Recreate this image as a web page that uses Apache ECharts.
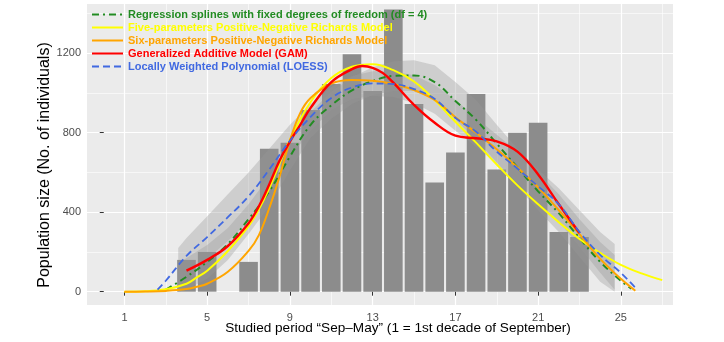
<!DOCTYPE html>
<html>
<head>
<meta charset="utf-8">
<script src="https://cdn.jsdelivr.net/npm/echarts@6/dist/echarts.min.js"></script>
<style>
  html, body { margin: 0; padding: 0; background: #ffffff; }
  #chart { width: 724px; height: 342px; }
</style>
</head>
<body>
<div id="chart"></div>
<script>
// Observed counts per decade
const barX = [4, 5, 7, 8, 9, 10, 11, 12, 13, 14, 15, 16, 17, 18, 19, 20, 21, 22, 23];
const barY = [160, 200, 150, 720, 750, 915, 1045, 1195, 1010, 1420, 945, 550, 700, 995, 615, 800, 850, 300, 275];

// Regression splines (df = 4)
const splineX = [3, 4, 5, 6, 7, 8, 9, 10, 11, 12, 13, 14, 15, 16, 17, 18, 19, 20, 21, 22, 23, 24, 25, 25.5];
const splineY = [10, 75, 150, 240, 365, 505, 680, 840, 938, 1013, 1060, 1086, 1088, 1055, 960, 865, 745, 625, 505, 395, 270, 150, 55, 15];

// Five-parameter Richards model
const rich5X = [1, 2, 3, 4, 4.5, 5, 6, 7, 7.5, 8, 8.5, 9, 10, 11, 12, 13, 14, 15, 16, 17, 18, 19, 20, 21, 22, 23, 24, 25, 26, 27];
const rich5Y = [0, 2, 12, 40, 72, 105, 205, 330, 415, 520, 645, 765, 955, 1075, 1132, 1145, 1115, 1058, 965, 855, 750, 640, 535, 440, 350, 265, 195, 135, 92, 58];

// Six-parameter Richards model
const rich6X = [1, 2, 3, 4, 4.5, 5, 6, 7, 7.5, 8, 8.5, 9, 9.5, 10, 11, 12, 13, 14, 15, 16, 17, 18, 19, 20, 21, 22, 23, 24, 25, 25.7];
const rich6Y = [0, 1, 4, 13, 25, 40, 100, 205, 285, 420, 580, 760, 900, 975, 1048, 1066, 1062, 1045, 1015, 965, 878, 800, 717, 625, 525, 410, 290, 165, 65, 5];

// Generalized additive model
const gamX = [4, 5, 6, 7, 7.5, 8, 8.5, 9, 9.5, 10, 11, 12, 12.5, 13, 13.5, 14, 15, 16, 17, 18, 19, 20, 21, 22, 23];
const gamY = [106, 160, 230, 345, 430, 540, 660, 755, 840, 925, 1055, 1120, 1136, 1127, 1100, 1052, 940, 850, 785, 772, 757, 705, 590, 440, 295];

// LOESS
const loessX = [2.6, 3, 4, 5, 6, 7, 8, 9, 10, 11, 12, 13, 14, 15, 16, 17, 18, 19, 20, 21, 22, 23, 24, 25, 25.7];
const loessY = [10, 55, 180, 275, 375, 480, 615, 760, 880, 975, 1028, 1048, 1045, 1020, 970, 875, 805, 705, 620, 530, 440, 300, 185, 95, 20];

// Confidence ribbons
const bandX = [3.6, 4, 5, 6, 7, 8, 9, 10, 11, 12, 13, 14, 15, 16, 17, 18, 19, 20, 21, 22, 23, 24, 24.7];
const loessLow  = [10, 80, 165, 255, 355, 505, 675, 810, 915, 970, 985, 980, 950, 895, 810, 730, 645, 550, 450, 355, 225, 95, 10];
const loessHigh = [220, 270, 380, 490, 600, 720, 840, 945, 1030, 1085, 1110, 1110, 1090, 1040, 965, 875, 790, 705, 615, 520, 410, 300, 240];
const splineLow  = [0, 10, 65, 160, 290, 430, 610, 775, 870, 945, 990, 1010, 1010, 970, 865, 765, 650, 530, 410, 300, 175, 50, 0];
const splineHigh = [140, 170, 235, 320, 440, 580, 750, 905, 1005, 1080, 1130, 1160, 1165, 1140, 1055, 965, 840, 720, 600, 490, 365, 250, 185];

// Axis ticks
const xTicks = [1, 5, 9, 13, 17, 21, 25];
const xMinor = [3, 7, 11, 15, 19, 23, 27];
const yTicks = [0, 400, 800, 1200];
const yMinor = [200, 600, 1000, 1400];

const names = {
  spline: 'Regression splines with fixed degrees of freedom (df = 4)',
  rich5: 'Five-parameters Positive-Negative Richards Model',
  rich6: 'Six-parameters Positive-Negative Richards Model',
  gam: 'Generalized Additive Model (GAM)',
  loess: 'Locally Weighted Polynomial (LOESS)'
};
const colors = {
  spline: '#228B22', rich5: '#FFFF00', rich6: '#FFA500', gam: '#FF0000', loess: '#4169E1'
};

const X_MIN = -0.81, X_MAX = 27.52, Y_MIN = -67, Y_MAX = 1448;
const FONT = 'Liberation Sans';

const pairs = (xs, ys) => xs.map((x, i) => [x, ys[i]]);

function ribbon(xs, lo, hi, fill) {
  const data = xs.map((x, i) => [x, lo[i], hi[i]]);
  return {
    type: 'custom', silent: true, clip: true, z: 3,
    data: data,
    encode: { x: 0, y: [1, 2] },
    renderItem: function (params, api) {
      if (params.dataIndex !== 0) return null;
      const top = data.map(d => api.coord([d[0], d[2]]));
      const bottom = data.map(d => api.coord([d[0], d[1]])).reverse();
      return { type: 'polygon', shape: { points: top.concat(bottom) }, style: { fill: fill } };
    }
  };
}

function curve(key, xs, ys, width, dash, z) {
  return {
    name: names[key], type: 'line', data: pairs(xs, ys),
    smooth: 0.4, symbol: 'none', silent: true, z: z,
    lineStyle: { color: colors[key], width: width, type: dash },
    itemStyle: { color: colors[key] }
  };
}

const chart = echarts.init(document.getElementById('chart'), null, { renderer: 'canvas' });

const plain = v => String(v);

const option = {
  animation: false,
  backgroundColor: '#ffffff',
  grid: { left: 87, top: 4, right: 51, bottom: 37, show: true, backgroundColor: '#EBEBEB', borderWidth: 0 },
  xAxis: [
    {
      type: 'value', min: X_MIN, max: X_MAX,
      axisLine: { show: false },
      axisTick: { show: true, length: 4, customValues: xTicks, lineStyle: { color: '#333333', width: 1 } },
      axisLabel: { customValues: xTicks, formatter: plain, color: '#4D4D4D', fontSize: 11, fontFamily: FONT, margin: 7 },
      splitLine: { show: true, lineStyle: { color: '#ffffff', width: 1.2 } }
    },
    {
      type: 'value', min: X_MIN, max: X_MAX, position: 'bottom',
      axisLine: { show: false },
      axisTick: { show: false, customValues: xMinor },
      axisLabel: { show: false, customValues: xMinor },
      splitLine: { show: true, lineStyle: { color: '#ffffff', width: 0.6 } }
    }
  ],
  yAxis: [
    {
      type: 'value', min: Y_MIN, max: Y_MAX,
      axisLine: { show: false },
      axisTick: { show: true, length: 4, customValues: yTicks, lineStyle: { color: '#333333', width: 1 } },
      axisLabel: { customValues: yTicks, formatter: plain, color: '#4D4D4D', fontSize: 11, fontFamily: FONT, margin: 6 },
      splitLine: { show: true, lineStyle: { color: '#ffffff', width: 1.2 } }
    },
    {
      type: 'value', min: Y_MIN, max: Y_MAX, position: 'left',
      axisLine: { show: false },
      axisTick: { show: false, customValues: yMinor },
      axisLabel: { show: false, customValues: yMinor },
      splitLine: { show: true, lineStyle: { color: '#ffffff', width: 0.6 } }
    }
  ],
  legend: {
    orient: 'vertical', left: 91, top: 8, padding: 0,
    itemWidth: 31, itemHeight: 13, itemGap: 0, selectedMode: false,
    itemStyle: { color: 'rgba(0,0,0,0)', borderWidth: 0, opacity: 0 },
    textStyle: { fontFamily: FONT, fontWeight: 'bold', fontSize: 11, lineHeight: 13, padding: 0 },
    data: ['spline', 'rich5', 'rich6', 'gam', 'loess'].map(k => ({
      name: names[k],
      itemStyle: { color: 'rgba(0,0,0,0)', borderWidth: 0, opacity: 0 },
      textStyle: { color: colors[k] }
    }))
  },
  graphic: [
    {
      type: 'text', x: 45, y: 165, rotation: Math.PI / 2, silent: true,
      style: { text: 'Population size (No. of individuals)', font: '16px "Liberation Sans"', fill: '#000000',
               textAlign: 'center', textVerticalAlign: 'middle', align: 'center', verticalAlign: 'middle' }
    },
    {
      type: 'text', x: 398, y: 328, silent: true,
      style: { text: 'Studied period \u201CSep\u2013May\u201D (1 = 1st decade of September)', font: '13.6px "Liberation Sans"', fill: '#000000',
               textAlign: 'center', textVerticalAlign: 'middle', align: 'center', verticalAlign: 'middle' }
    }
  ],
  series: [
    {
      type: 'bar', data: pairs(barX, barY), barWidth: '90%', silent: true, z: 2,
      itemStyle: { color: '#8C8C8C' }
    },
    ribbon(bandX, loessLow, loessHigh, 'rgba(153,153,153,0.35)'),
    ribbon(bandX, splineLow, splineHigh, 'rgba(153,153,153,0.35)'),
    curve('spline', splineX, splineY, 2, [7, 4, 2, 4], 5),
    curve('rich5', rich5X, rich5Y, 2, 'solid', 6),
    curve('rich6', rich6X, rich6Y, 2, 'solid', 7),
    curve('gam', gamX, gamY, 2.4, 'solid', 8),
    curve('loess', loessX, loessY, 1.8, [7, 4], 9)
  ]
};

chart.setOption(option);
</script>
</body>
</html>
